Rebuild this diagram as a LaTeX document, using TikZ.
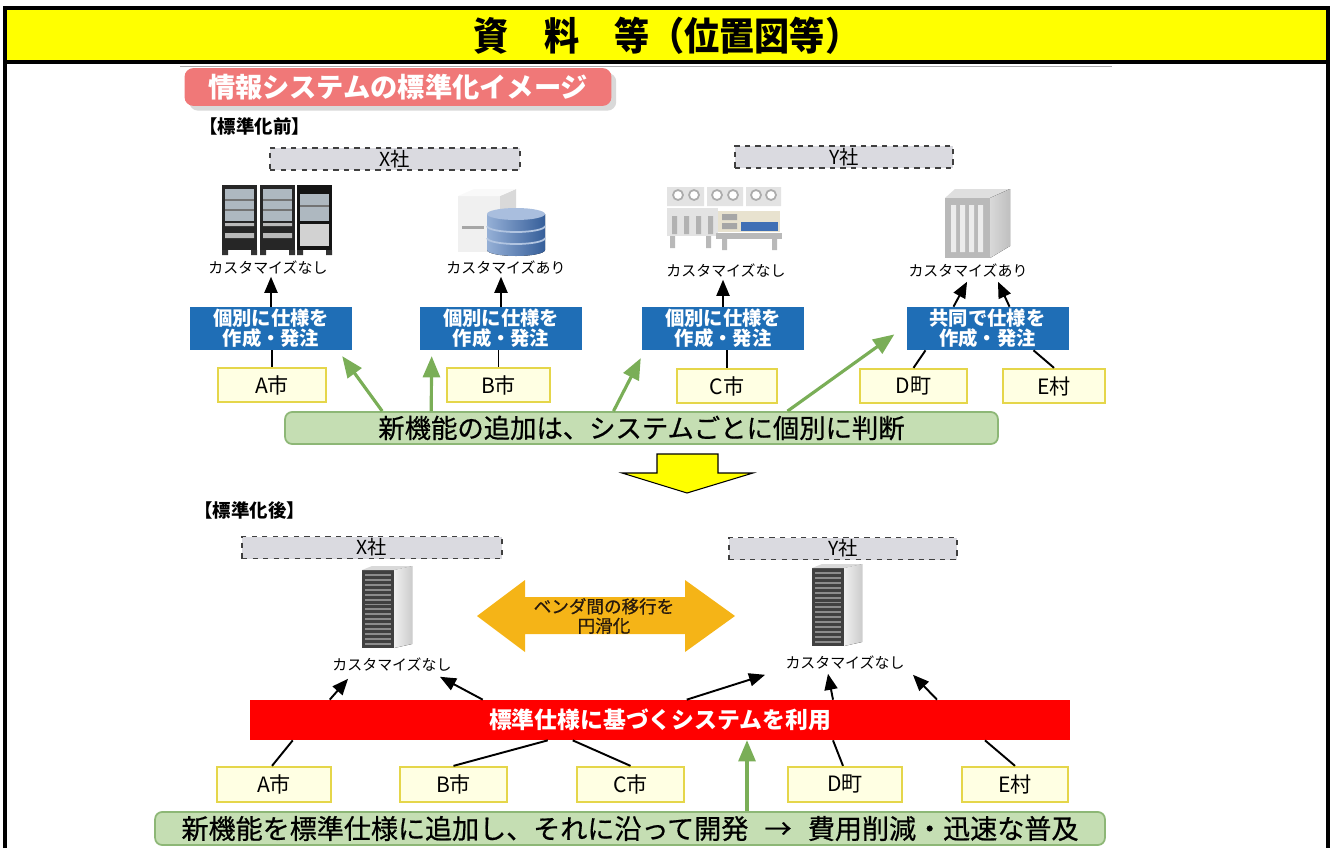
\documentclass[tikz,border=0pt]{standalone}
\usepackage{fontspec}
\setmainfont{Noto Sans CJK JP}
\newfontfamily\notefont{Noto Sans CJK JP}[FakeBold=0.6]
\usetikzlibrary{calc,arrows,shadows}

\definecolor{headyellow}{HTML}{FFFF00}
\definecolor{titlepink}{HTML}{F07878}
\definecolor{vendorgray}{HTML}{DADAE0}
\definecolor{specblue}{HTML}{1F6EB6}
\definecolor{cityfill}{HTML}{FFFFE3}
\definecolor{cityline}{HTML}{E5D64A}
\definecolor{notefill}{HTML}{C5DEB3}
\definecolor{noteline}{HTML}{8DB776}
\definecolor{notearrow}{HTML}{7AAE57}
\definecolor{moveorange}{HTML}{F5B417}
\definecolor{stdred}{HTML}{FF0000}
\definecolor{glass}{HTML}{AEB8C0}
\definecolor{dbblue}{HTML}{3F6FB5}
\definecolor{panel}{HTML}{E8E2CF}

\tikzset{
  vendor/.style={draw=black!75, dashed, fill=vendorgray, line width=1pt,
    minimum height=0.44cm, inner sep=0pt, font=\fontsize{11}{12}\selectfont},
  spec/.style={fill=specblue, text=white, align=center, inner sep=0pt,
    minimum width=3.24cm, minimum height=0.86cm,
    font=\bfseries\fontsize{11}{11.5}\selectfont},
  city/.style={draw=cityline, fill=cityfill, line width=1.3pt, inner sep=0pt,
    minimum height=0.68cm, font=\fontsize{12}{12}\selectfont},
  custom/.style={inner sep=1pt, font=\fontsize{8.5}{9}\selectfont},
  note/.style={draw=noteline, fill=notefill, rounded corners=4pt, line width=1pt,
    inner sep=0pt, font=\notefont\fontsize{15}{15}\selectfont},
  link/.style={line width=1.1pt},
  up/.style={link, -triangle 45},
  addnew/.style={draw=notearrow, line width=1.8pt, -triangle 45},
}

\begin{document}
\begin{tikzpicture}[x=0.02cm, y=-0.02cm]
  \useasboundingbox (0,0) rectangle (1334,848);

  % header band and frame
  \fill[headyellow] (5,8) rectangle (1328,62);
  \node[font=\bfseries\fontsize{20}{20}\selectfont, yscale=1.1] (head) at (667,36) {資　料　等（位置図等）};
  \draw[line width=2.8pt] (5,848) -- (5,8) -- (1328,8) -- (1328,848);
  \draw[line width=2pt] (5,62) -- (1328,62);
  \draw[black!35, line width=0.4pt] (180,66) -- (1112,66);

  \node[fill=titlepink, rounded corners=5pt, text=white, minimum width=8.54cm,
    minimum height=0.6cm, drop shadow={opacity=0.3},
    font=\bfseries\fontsize{15.5}{16}\selectfont] (theme) at (398,87) {情報システムの標準化イメージ};

  % ---------- before ----------
  \node[anchor=west, font=\bfseries\fontsize{10.5}{11}\selectfont] (before) at (193,126) {【標準化前】};
  \node[vendor, minimum width=5cm] (xa) at (395,159) {X社};
  \node[vendor, minimum width=4.36cm] (ya) at (844,157) {Y社};

  % rack cabinets
  \fill[black!85] (222,185) rectangle (257,250);
  \fill[black!85] (260,185) rectangle (295,250);
  \fill[black!92] (297,185) rectangle (332,250);
  \fill[glass] (225,189) rectangle (254,221);
  \fill[glass] (263,189) rectangle (292,221);
  \fill[glass] (300,194) rectangle (329,221);
  \draw[black!55, line width=0.6pt] (225,200) -- (254,200) (263,200) -- (292,200) (225,210) -- (254,210) (263,210) -- (292,210) (300,206) -- (329,206);
  \fill[gray!55] (225,223) rectangle (254,226) (263,223) rectangle (292,226) (225,233) rectangle (254,238) (263,233) rectangle (292,238);
  \fill[gray!35] (300,224) rectangle (329,246);
  \fill[black!80] (222,250) rectangle (228,255) (251,250) rectangle (257,255) (260,250) rectangle (266,255) (289,250) rectangle (295,255) (297,250) rectangle (303,255) (326,250) rectangle (332,255);

  % server with database
  \fill[gray!12] (458,196) rectangle (500,252);
  \fill[gray!30] (500,196) -- (516,189) -- (516,240) -- (500,252) -- cycle;
  \fill[gray!5] (458,196) -- (474,189) -- (516,189) -- (500,196) -- cycle;
  \fill[gray!70] (462,226) rectangle (484,229);
  \fill[left color=dbblue!55!white, right color=dbblue!85!black] (487,214) -- (487,250)
    arc[start angle=180, end angle=0, x radius=29, y radius=6] -- (545,214) -- cycle;
  \draw[white!60!dbblue, line width=1pt] (487,226) arc[start angle=180, end angle=0, x radius=29, y radius=6];
  \draw[white!60!dbblue, line width=1pt] (487,238) arc[start angle=180, end angle=0, x radius=29, y radius=6];
  \fill[dbblue!45!white] (516,214) ellipse[x radius=29, y radius=6];

  % host machine
  \fill[gray!22] (667,187) rectangle (704,206) (707,187) rectangle (743,206) (746,187) rectangle (781,206);
  \draw[gray!65, fill=white, line width=1pt] (678,195) circle[radius=5] (694,195) circle[radius=5]
    (717,195) circle[radius=5] (733,195) circle[radius=5] (756,195) circle[radius=5] (771,195) circle[radius=5];
  \fill[gray!22] (667,208) rectangle (718,236);
  \fill[gray!60] (672,216) rectangle (677,234) (684,216) rectangle (689,234) (696,216) rectangle (701,234) (708,216) rectangle (713,234);
  \fill[panel] (718,211) rectangle (780,232);
  \fill[gray!70] (722,214) rectangle (737,220) (722,223) rectangle (737,229);
  \fill[dbblue] (741,222) rectangle (778,231);
  \fill[gray!55] (716,233) rectangle (782,239);
  \fill[gray!55] (722,239) rectangle (727,250) (772,239) rectangle (777,250) (670,236) rectangle (675,248) (706,236) rectangle (711,248);

  % tower server
  \fill[gray!25] (945,198) -- (955,189) -- (1010,189) -- (990,198) -- cycle;
  \fill[gray!55] (945,198) rectangle (990,258);
  \fill[left color=gray!30, right color=gray!50] (990,198) -- (1010,189) -- (1010,246) -- (990,258) -- cycle;
  \fill[gray!15] (951,205) rectangle (956,252) (960,205) rectangle (965,252) (969,205) rectangle (974,252) (978,205) rectangle (983,252);

  \node[custom] (la1) at (268,268) {カスタマイズなし};
  \node[custom] (la2) at (506,268) {カスタマイズあり};
  \node[custom] (la3) at (726,271) {カスタマイズなし};
  \node[custom] (la4) at (968,271) {カスタマイズあり};

  \node[spec] (sp1) at (271,328.5) {個別に仕様を\\作成・発注};
  \node[spec] (sp2) at (501,328.5) {個別に仕様を\\作成・発注};
  \node[spec] (sp3) at (723,328.5) {個別に仕様を\\作成・発注};
  \node[spec] (sp4) at (987.5,328.5) {共同で仕様を\\作成・発注};

  \node[city, minimum width=2.16cm] (ta) at (272,385) {A市};
  \node[city, minimum width=2.06cm] (tb) at (498.5,385) {B市};
  \node[city, minimum width=2cm] (tc) at (727,386) {C市};
  \node[city, minimum width=2.14cm] (td) at (913.5,386) {D町};
  \node[city, minimum width=2.04cm] (te) at (1054,386) {E村};

  \node[note, minimum width=14.26cm, minimum height=0.64cm] (judge) at (641.5,428) {新機能の追加は、システムごとに個別に判断};

  % city -> order -> system
  \draw[link] (ta.north) -- (ta.north |- sp1.south);
  \draw[link] (tb.north) -- (tb.north |- sp2.south);
  \draw[link] (tc.north) -- (tc.north |- sp3.south);
  \draw[link] (td.north) -- ($(sp4.south)+(-62,0)$);
  \draw[link] (te.north) -- ($(sp4.south)+(46,0)$);
  \draw[up] (sp1.north) -- (sp1.north |- la1.south);
  \draw[up] (sp2.north) -- (sp2.north |- la2.south);
  \draw[up] (sp3.north) -- (sp3.north |- la3.south);
  \draw[up] ($(sp4.north)+(-34,0)$) -- ($(la4.south)+(-1,2)$);
  \draw[up] ($(sp4.north)+(22,0)$) -- ($(la4.south)+(30,2)$);

  % new features, one by one
  \draw[addnew] ($(judge.north west)+(98,0)$) -- ($(sp1.south east)+(-10,6)$);
  \draw[addnew] ($(judge.north west)+(147,0)$) -- ($(sp2.south west)+(12,6)$);
  \draw[addnew] ($(judge.north)+(-28,0)$) -- ($(sp3.south west)+(-1,8)$);
  \draw[addnew] ($(judge.north)+(146,0)$) -- ($(sp4.west)+(-12,6)$);

  \filldraw[fill=headyellow, draw=black, line width=0.6pt] (657,454) -- (718,454) -- (718,473) -- (753,473)
    -- (687,493) -- (622,473) -- (657,473) -- cycle;

  % ---------- after ----------
  \node[anchor=west, font=\bfseries\fontsize{10.5}{11}\selectfont] (after) at (188,510) {【標準化後】};
  \node[vendor, minimum width=5.2cm] (xb) at (372,547.5) {X社};
  \node[vendor, minimum width=4.56cm] (yb) at (843,548.5) {Y社};

  % rack towers
  \foreach \dx/\dy in {0/0, 450/-2} {
    \begin{scope}[shift={(\dx,\dy)}]
      \fill[black!75] (362,570) rectangle (394,648);
      \fill[left color=gray!12, right color=gray!40] (394,570) -- (412,566) -- (412,644) -- (394,648) -- cycle;
      \fill[gray!30] (362,570) -- (372,566) -- (412,566) -- (394,570) -- cycle;
      \draw[black!45, line width=0.52cm, dash pattern=on 1.1pt off 1.7pt] (378,574) -- (378,645);
    \end{scope}
  }

  \node[custom] (lb1) at (392,665) {カスタマイズなし};
  \node[custom] (lb2) at (845,663) {カスタマイズなし};

  \fill[moveorange] (477,616) -- (525,580) -- (525,597) -- (685,597) -- (685,580) -- (735,616)
    -- (685,652) -- (685,634) -- (525,634) -- (525,652) -- cycle;
  \node[align=center, text=black!80!brown, font=\notefont\fontsize{10}{11}\selectfont] (ikou) at (604,616) {ベンダ間の移行を\\円滑化};

  \node[fill=stdred, text=white, minimum width=16.4cm, minimum height=0.8cm,
    font=\bfseries\fontsize{13}{13}\selectfont] (std) at (660,720) {標準仕様に基づくシステムを利用};

  \node[city, minimum width=2.28cm, minimum height=0.7cm] (ba) at (274,784.5) {A市};
  \node[city, minimum width=2.14cm, minimum height=0.7cm] (bb) at (453.5,784.5) {B市};
  \node[city, minimum width=2.14cm, minimum height=0.7cm] (bc) at (630.5,784.5) {C市};
  \node[city, minimum width=2.28cm, minimum height=0.7cm] (bd) at (845,784.5) {D町};
  \node[city, minimum width=2.12cm, minimum height=0.7cm] (be) at (1015,784.5) {E村};

  \node[note, minimum width=19cm, minimum height=0.66cm, font=\notefont\fontsize{15.4}{15}\selectfont] (develop) at (630,828.5)
    {新機能を標準仕様に追加し、それに沿って開発\hspace{0.6em}→\hspace{0.6em}費用削減・迅速な普及};

  % cities share the standard system
  \draw[link] ($(ba.north)+(-2,0)$) -- ($(std.south west)+(43,0)$);
  \draw[link] (bb.north) -- ($(std.south west)+(298,0)$);
  \draw[link] (bc.north) -- ($(std.south west)+(323,0)$);
  \draw[link] ($(bd.north)+(-2,0)$) -- ($(std.south)+(173,0)$);
  \draw[link] (be.north) -- ($(std.south)+(325,0)$);
  \draw[up] ($(std.north west)+(80,0)$) -- ($(lb1.south)+(-44,5)$);
  \draw[up] ($(std.north west)+(233,0)$) -- ($(lb1.south)+(48,3)$);
  \draw[up] ($(std.north west)+(437,0)$) -- ($(lb2.south)+(-80,3)$);
  \draw[up] ($(std.north)+(173,0)$) -- ($(lb2.south)+(-17,2)$);
  \draw[up] ($(std.north)+(277,0)$) -- ($(lb2.south)+(68,3)$);
  \draw[addnew] ($(develop.north)+(117,0)$) -- ($(std.south)+(87,0)$);
\end{tikzpicture}
\end{document}
